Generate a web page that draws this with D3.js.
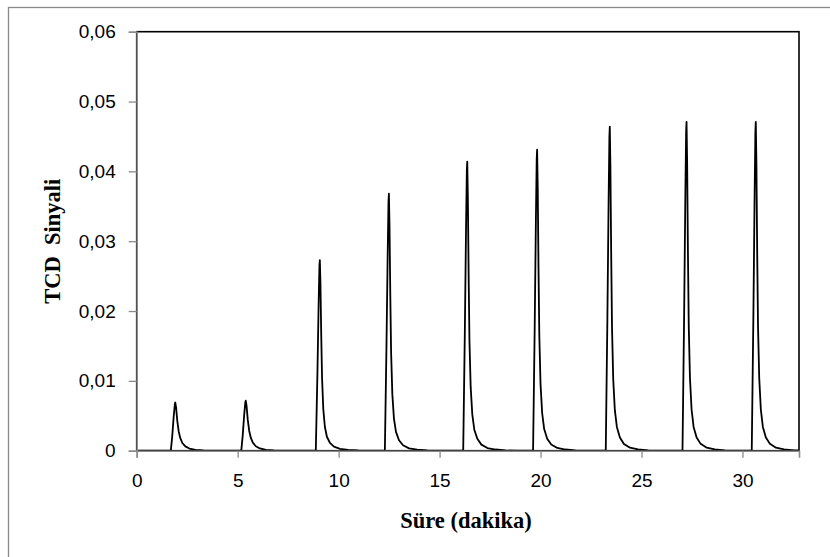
<!DOCTYPE html>
<html>
<head>
<meta charset="utf-8">
<script src="https://cdn.jsdelivr.net/npm/d3@7"></script>
<style>
  html, body { margin: 0; padding: 0; background: #fff; }
  svg { display: block; }
</style>
</head>
<body>
<svg id="chart" width="830" height="557"></svg>
<script>
// ---- Data (time in minutes, TCD signal) ----
const xTicks = [0, 5, 10, 15, 20, 25, 30];
const yTicks = [0, 0.01, 0.02, 0.03, 0.04, 0.05, 0.06];
const xTitle = "Süre (dakika)";
const yTitle = "TCD\u00a0 Sinyali";

const peak1 = [[1.69,0],[1.76,0.00207],[1.83,0.00483],[1.89,0.00669],[1.91,0.0069],[1.95,0.00621],[2.01,0.00428],[2.08,0.00276],[2.16,0.00179],[2.26,0.0011],[2.41,0.00062],[2.61,0.00031],[2.91,0.00012],[3.31,0.00004],[3.81,0.00001],[4.31,0]];
const peak2 = [[5.18,0],[5.25,0.00215],[5.32,0.00501],[5.38,0.00695],[5.40,0.00716],[5.44,0.00644],[5.50,0.00444],[5.57,0.00286],[5.65,0.00186],[5.75,0.00115],[5.90,0.00064],[6.10,0.00032],[6.40,0.00013],[6.80,0.00004],[7.30,0.00001],[7.80,0]];
const peak3 = [[8.87,0],[8.95,0.0110],[9.01,0.0210],[9.05,0.0265],[9.07,0.0273],[9.10,0.0240],[9.14,0.0164],[9.18,0.0104],[9.24,0.0060],[9.32,0.0034],[9.42,0.0020],[9.57,0.00112],[9.77,0.00058],[10.07,0.00026],[10.47,0.00011],[10.97,0.00003],[11.47,0]];
const peak4 = [[12.29,0],[12.37,0.0150],[12.43,0.0282],[12.47,0.0357],[12.49,0.0368],[12.52,0.0324],[12.56,0.0221],[12.60,0.0140],[12.66,0.0081],[12.74,0.0046],[12.84,0.0027],[12.99,0.0015],[13.19,0.00078],[13.49,0.00034],[13.89,0.00015],[14.39,0.00004],[14.89,0]];
const peak5 = [[16.17,0],[16.25,0.0168],[16.31,0.0318],[16.35,0.0402],[16.37,0.0414],[16.40,0.0364],[16.44,0.0248],[16.48,0.0157],[16.54,0.0091],[16.62,0.0052],[16.72,0.0030],[16.87,0.0017],[17.07,0.00087],[17.37,0.00038],[17.77,0.00017],[18.27,0.00004],[18.77,0]];
const peak6 = [[19.63,0],[19.71,0.0175],[19.77,0.0331],[19.81,0.0418],[19.83,0.0431],[19.86,0.0379],[19.90,0.0259],[19.94,0.0164],[20.00,0.0095],[20.08,0.0054],[20.18,0.0031],[20.33,0.0017],[20.53,0.00090],[20.83,0.00040],[21.23,0.00017],[21.73,0.00004],[22.23,0]];
const peak7 = [[23.23,0],[23.31,0.0188],[23.37,0.0356],[23.41,0.0450],[23.43,0.0464],[23.46,0.0408],[23.50,0.0278],[23.54,0.0176],[23.60,0.0102],[23.68,0.0058],[23.78,0.0034],[23.93,0.0019],[24.13,0.00097],[24.43,0.00043],[24.83,0.00019],[25.33,0.00005],[25.83,0]];
const peak8 = [[27.03,0],[27.11,0.0191],[27.17,0.0362],[27.21,0.0457],[27.23,0.0471],[27.26,0.0414],[27.30,0.0283],[27.34,0.0179],[27.40,0.0104],[27.48,0.0059],[27.58,0.0034],[27.73,0.0019],[27.93,0.00098],[28.23,0.00043],[28.63,0.00019],[29.13,0.00005],[29.63,0]];
const peak9 = [[30.46,0],[30.54,0.0191],[30.60,0.0362],[30.64,0.0457],[30.66,0.0471],[30.69,0.0414],[30.73,0.0283],[30.77,0.0179],[30.83,0.0104],[30.91,0.0059],[31.01,0.0034],[31.16,0.0019],[31.36,0.00098],[31.66,0.00043],[32.06,0.00019],[32.56,0.00005],[32.8,0.00003]];
const baselineStart = [[0,0]];

const series = [].concat(baselineStart, peak1, peak2, peak3, peak4, peak5, peak6, peak7, peak8, peak9);

// ---- Layout ----
const svg = d3.select("#chart");
const pLeft = 136.7, pRight = 799, pTop = 31.7, pBottom = 450.7;

const x = d3.scaleLinear().domain([0, 32.8]).range([pLeft, pRight]);
const y = d3.scaleLinear().domain([0, 0.06]).range([pBottom, pTop]);

// outer frame
svg.append("rect")
  .attr("x", 8.5).attr("y", 7.5)
  .attr("width", 900).attr("height", 700)
  .attr("fill", "#fff").attr("stroke", "#8a8a8a").attr("stroke-width", 1.3);

// plot area border (black top/right)
svg.append("rect")
  .attr("x", pLeft).attr("y", pTop)
  .attr("width", pRight - pLeft).attr("height", pBottom - pTop)
  .attr("fill", "#fff").attr("stroke", "#000").attr("stroke-width", 1.6);

// line
const line = d3.line().x(d => x(d[0])).y(d => y(d[1]));
svg.append("path")
  .datum(series)
  .attr("d", line)
  .attr("fill", "none")
  .attr("stroke", "#000")
  .attr("stroke-width", 1.8)
  .attr("stroke-linejoin", "round");

const fmt = v => v === 0 ? "0" : d3.format(".2f")(v).replace(".", ",");

// y axis
const yAxis = svg.append("g")
  .attr("transform", `translate(${pLeft},0)`)
  .call(d3.axisLeft(y).tickValues(yTicks).tickFormat(fmt).tickSize(8).tickPadding(13));
yAxis.select(".domain").attr("stroke", "#8a8a8a").attr("stroke-width", 1.6);
yAxis.selectAll(".tick line").attr("stroke", "#8a8a8a").attr("stroke-width", 1.3);
yAxis.selectAll(".tick text")
  .attr("font-family", "Liberation Sans, Arial, sans-serif")
  .attr("font-size", 19).attr("fill", "#000");

// x axis
const xAxis = svg.append("g")
  .attr("transform", `translate(0,${pBottom})`)
  .call(d3.axisBottom(x).tickValues(xTicks).tickFormat(d3.format("d")).tickSize(7).tickPadding(16));
xAxis.select(".domain").attr("stroke", "#8a8a8a").attr("stroke-width", 1.6);
xAxis.selectAll(".tick line").attr("stroke", "#8a8a8a").attr("stroke-width", 1.3);
xAxis.selectAll(".tick text")
  .attr("font-family", "Liberation Sans, Arial, sans-serif")
  .attr("font-size", 19).attr("fill", "#000");

// titles
svg.append("text")
  .attr("x", 466).attr("y", 528)
  .attr("text-anchor", "middle")
  .attr("font-family", "Liberation Serif, Times New Roman, serif")
  .attr("font-weight", "bold").attr("font-size", 22.5)
  .attr("fill", "#000")
  .text(xTitle);

svg.append("text")
  .attr("transform", `translate(60,${(pTop + pBottom) / 2}) rotate(-90)`)
  .attr("text-anchor", "middle")
  .attr("font-family", "Liberation Serif, Times New Roman, serif")
  .attr("font-weight", "bold").attr("font-size", 22.5)
  .attr("fill", "#000")
  .text(yTitle);
</script>
</body>
</html>
